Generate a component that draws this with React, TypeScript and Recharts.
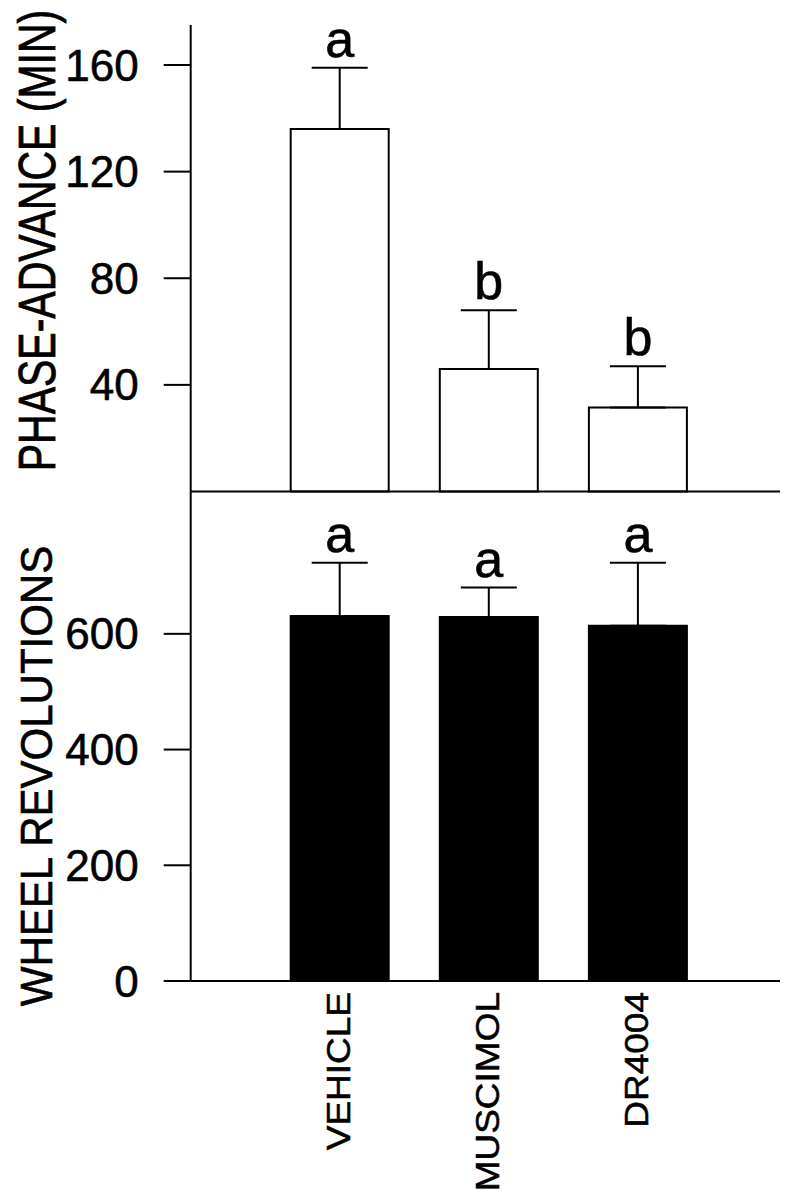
import { BarChart, Bar, XAxis, YAxis, ErrorBar, LabelList, ReferenceLine } from "recharts"

const groups = ["VEHICLE", "MUSCIMOL", "DR4004"]

const phaseAdvance = [136, 46, 31.5]
const phaseErr = [23, 22, 15.5]
const phaseLetters = ["a", "b", "b"]
const phaseTicks = [40, 80, 120, 160]

const wheelRevs = [631, 629, 614]
const wheelErr = [92, 51, 109]
const wheelLetters = ["a", "a", "a"]
const wheelTicks = [0, 200, 400, 600]

const FONT = "'Liberation Sans', Arial, Helvetica, sans-serif"
const W = 788
const H = 1199
const AXIS_TOP = 25
const SPLIT = 491.5
const BOTTOM = 981
const PLOT_LEFT = 190.7
const PLOT_RIGHT = 780
const Y_AXIS_W = 150
const INK = { fill: "#000", stroke: "#000", strokeWidth: 0.6 }

const phaseData = groups.map((g, i) => ({ name: g, value: phaseAdvance[i], err: [0, phaseErr[i]] }))
const wheelData = groups.map((g, i) => ({ name: g, value: wheelRevs[i], err: [0, wheelErr[i]] }))

// letter above the error bar cap; pixel scale taken from the bar itself
const letterLabel = (letters: string[], values: number[], errs: number[]) => (props: any) => {
  const { x, y, width, height, index } = props
  const pxPerUnit = height / values[index]
  const capY = y - errs[index] * pxPerUnit
  return (
    <text x={x + width / 2} y={capY - 11} textAnchor="middle" fontSize={52} fontFamily={FONT} {...INK}>
      {letters[index]}
    </text>
  )
}

const XTick = (props: any) => {
  const { x, y, payload } = props
  return (
    <text
      transform={`translate(${x + 11},${y + 11}) rotate(-90) scale(1,0.9)`}
      textAnchor="end"
      fontSize={37}
      fontFamily={FONT}
      {...INK}
    >
      {payload.value}
    </text>
  )
}

const axisStyle = { stroke: "#000", strokeWidth: 2 }
const tickStyle = { fontSize: 44, fontFamily: FONT, ...INK }

export default function App() {
  return (
    <div style={{ position: "absolute", left: 0, top: 0, width: W, height: H, background: "#fff" }}>
      <div style={{ position: "absolute", left: 0, top: 0 }}>
        <BarChart
          width={W}
          height={H}
          data={phaseData}
          margin={{ top: AXIS_TOP, right: W - PLOT_RIGHT, bottom: H - SPLIT, left: PLOT_LEFT - Y_AXIS_W }}
        >
          <XAxis dataKey="name" hide padding={{ left: 74, right: 68 }} />
          <YAxis
            width={Y_AXIS_W}
            domain={[0, 175]}
            ticks={phaseTicks}
            tickSize={27}
            tickMargin={25}
            tick={tickStyle}
            tickLine={axisStyle}
            axisLine={axisStyle}
            label={() => (
              <text
                transform={`translate(55,240.5) rotate(-90) scale(1,1.25)`}
                textAnchor="middle"
                fontSize={41}
                fontFamily={FONT}
                {...INK}
              >
                PHASE-ADVANCE (MIN)
              </text>
            )}
          />
          <Bar dataKey="value" fill="#fff" stroke="#000" strokeWidth={2} barSize={98} isAnimationActive={false}>
            <ErrorBar dataKey="err" direction="y" width={28} stroke="#000" strokeWidth={2} isAnimationActive={false} />
            <LabelList dataKey="value" content={letterLabel(phaseLetters, phaseAdvance, phaseErr)} />
          </Bar>
          <ReferenceLine y={0} stroke="#000" strokeWidth={2} />
        </BarChart>
      </div>
      <div style={{ position: "absolute", left: 0, top: 0 }}>
        <BarChart
          width={W}
          height={H}
          data={wheelData}
          margin={{ top: SPLIT, right: W - PLOT_RIGHT, bottom: 0, left: PLOT_LEFT - Y_AXIS_W }}
        >
          <XAxis
            dataKey="name"
            height={H - BOTTOM}
            tick={<XTick />}
            tickLine={false}
            tickSize={0}
            tickMargin={0}
            axisLine={axisStyle}
            interval={0}
            padding={{ left: 74, right: 68 }}
          />
          <YAxis
            width={Y_AXIS_W}
            domain={[0, 846]}
            ticks={wheelTicks}
            tickSize={27}
            tickMargin={25}
            tick={tickStyle}
            tickLine={axisStyle}
            axisLine={axisStyle}
            label={() => (
              <text
                transform={`translate(52,776) rotate(-90) scale(1,1.05)`}
                textAnchor="middle"
                fontSize={42}
                fontFamily={FONT}
                {...INK}
              >
                WHEEL REVOLUTIONS
              </text>
            )}
          />
          <Bar dataKey="value" fill="#000" stroke="#000" strokeWidth={2} barSize={98} isAnimationActive={false}>
            <ErrorBar dataKey="err" direction="y" width={28} stroke="#000" strokeWidth={2} isAnimationActive={false} />
            <LabelList dataKey="value" content={letterLabel(wheelLetters, wheelRevs, wheelErr)} />
          </Bar>
        </BarChart>
      </div>
    </div>
  )
}
